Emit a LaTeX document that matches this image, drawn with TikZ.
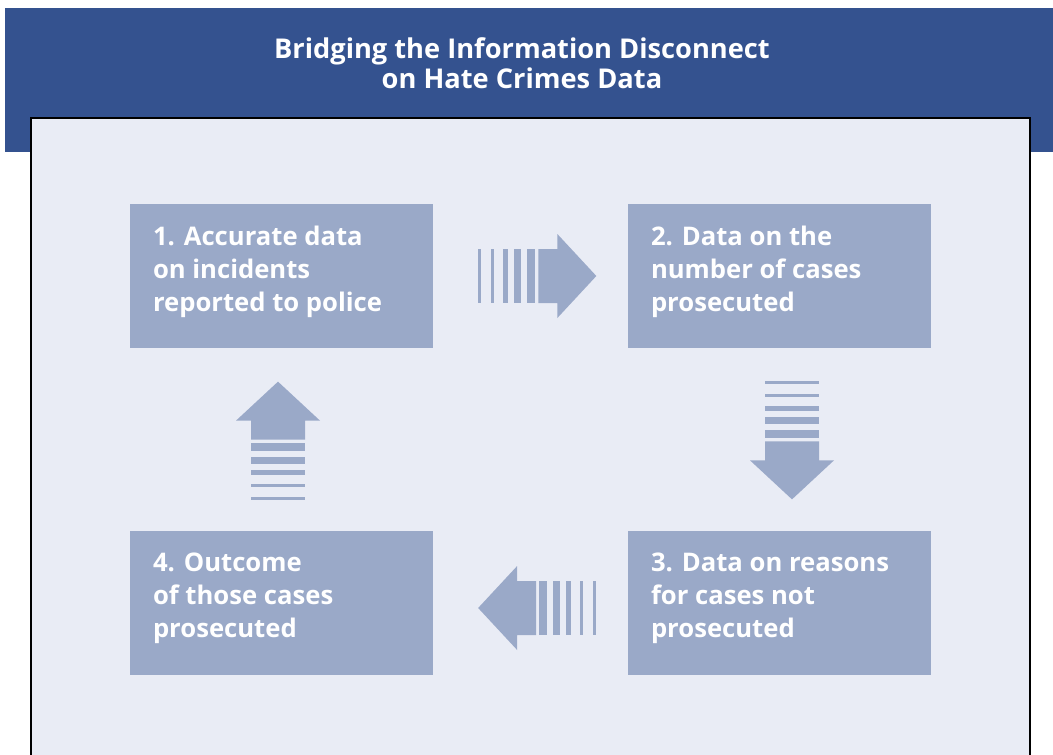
\documentclass[tikz,border=0pt]{standalone}
\usepackage{fontspec}
\setmainfont{Open Sans}
\usetikzlibrary{positioning}
\definecolor{bannerblue}{HTML}{34528F}
\definecolor{panelgrey}{HTML}{E9ECF5}
\definecolor{stepblue}{HTML}{9AA9C8}

\begin{document}
\begin{tikzpicture}
    \tikzset{
      stepbox/.style={fill=stepblue, rectangle, minimum width=6.06cm, minimum height=2.88cm, inner sep=0pt},
      steptext/.style={anchor=north west, inner sep=0pt, align=left, text=white, font=\bfseries\fontsize{14.6}{18.8}\selectfont},
      pics/stripedarrow/.style={
          code={
              \foreach \a/\b in {-1.18/-1.12, -0.92/-0.86, -0.68/-0.58, -0.46/-0.32, -0.20/-0.04}
                \fill[stepblue] (\a,-0.54) rectangle (\b,0.54);
              \fill[stepblue] (0.02,-0.54) -- (0.40,-0.54) -- (0.40,-0.84) -- (1.18,0) -- (0.40,0.84) -- (0.40,0.54) -- (0.02,0.54) -- cycle;
            }
        }
    }
    \useasboundingbox (0,0) rectangle (21.06,-15.10);
    \fill[white] (0,0) rectangle (21.06,-15.10);

    % banner and panel
    \fill[bannerblue] (0.10,-0.16) rectangle (21.06,-3.04);
    \filldraw[fill=panelgrey, draw=black, line width=0.85pt] (0.62,-15.10) -- (0.62,-2.36) -- (20.60,-2.36) -- (20.60,-15.10);
    \node[text=white, align=center, anchor=north, inner sep=0pt, font=\bfseries\fontsize{15.5}{17}\selectfont] (title) at (10.44,-0.74) {Bridging the Information Disconnect\\on Hate Crimes Data};

    % the four steps
    \node[stepbox] (accurate) at (5.63,-5.52) {};
    \node[steptext] at ([xshift=0.46cm, yshift=-0.44cm]accurate.north west) {1. Accurate data\\on incidents\\reported to police};
    \node[stepbox] (prosecuted) at (15.59,-5.52) {};
    \node[steptext] at ([xshift=0.46cm, yshift=-0.44cm]prosecuted.north west) {2. Data on the\\number of cases\\prosecuted};
    \node[stepbox] (reasons) at (15.59,-12.06) {};
    \node[steptext] at ([xshift=0.46cm, yshift=-0.44cm]reasons.north west) {3. Data on reasons\\for cases not\\prosecuted};
    \node[stepbox] (outcome) at (5.63,-12.06) {};
    \node[steptext] at ([xshift=0.46cm, yshift=-0.44cm]outcome.north west) {4. Outcome\\of those cases\\prosecuted};

    % striped arrows between the steps
    \pic at ([xshift=2.08cm]accurate.east) {stripedarrow};
    \pic[rotate=-90] at ([xshift=0.25cm, yshift=-1.84cm]prosecuted.south) {stripedarrow};
    \pic[rotate=180] at ([xshift=-1.81cm, yshift=-0.10cm]reasons.west) {stripedarrow};
    \pic[rotate=90] at ([xshift=-0.07cm, yshift=1.80cm]outcome.north) {stripedarrow};
  \end{tikzpicture}
\end{document}
